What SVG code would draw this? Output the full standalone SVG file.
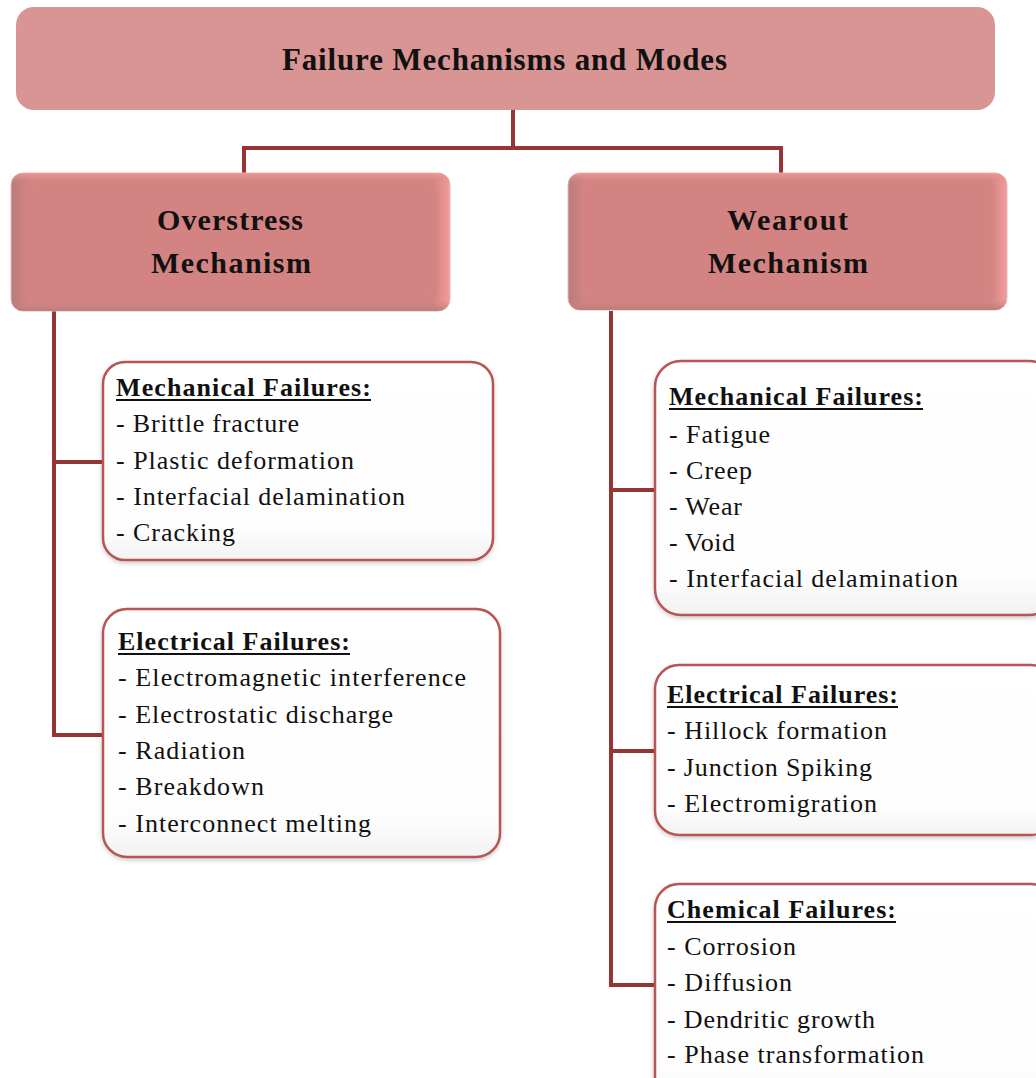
<svg xmlns="http://www.w3.org/2000/svg" width="1036" height="1078" viewBox="0 0 1036 1078">
<style>
.title{font-family:"Liberation Serif","Times New Roman",serif;font-weight:bold;font-size:31px;fill:#111;}
.hd{font-family:"Liberation Serif","Times New Roman",serif;font-weight:bold;font-size:30px;fill:#111;}
.sh{font-family:"Liberation Serif","Times New Roman",serif;font-weight:bold;font-size:26px;fill:#111;}
.it{font-family:"Liberation Serif","Times New Roman",serif;font-size:26px;fill:#111;}
.ul{fill:#111;}
.conn{fill:none;stroke:#963634;stroke-width:4;}
.box{fill:url(#wg);stroke:#B65452;stroke-width:2.5;}
</style>
<defs>
<linearGradient id="bh" x1="0" y1="0" x2="1" y2="0">
<stop offset="0" stop-color="#B87C7C"/><stop offset="0.04" stop-color="#D38482"/><stop offset="0.96" stop-color="#D38482"/><stop offset="1" stop-color="#F39C9C"/>
</linearGradient>
<linearGradient id="bv" x1="0" y1="0" x2="0" y2="1">
<stop offset="0" stop-color="#F19A99" stop-opacity="0.9"/><stop offset="0.08" stop-color="#D38482" stop-opacity="0"/><stop offset="0.92" stop-color="#D38482" stop-opacity="0"/><stop offset="1" stop-color="#B47D7D" stop-opacity="0.9"/>
</linearGradient>
<linearGradient id="wg" x1="0" y1="0" x2="0" y2="1">
<stop offset="0" stop-color="#FFFFFF"/><stop offset="0.85" stop-color="#FDFDFD"/><stop offset="1" stop-color="#F2F2F2"/>
</linearGradient>
<filter id="blur" x="-5%" y="-5%" width="110%" height="110%"><feGaussianBlur stdDeviation="3"/></filter>
<filter id="sh" x="-5%" y="-5%" width="110%" height="115%"><feDropShadow dx="0" dy="2" stdDeviation="2" flood-color="#000" flood-opacity="0.2"/></filter>
</defs>

<g id="connectors">
<path class="conn" d="M513,110 V150"/>
<path class="conn" d="M244,173 V148 H781 V173"/>
<path class="conn" d="M54,311 V735 H103"/>
<path class="conn" d="M54,462 H103"/>
<path class="conn" d="M611,311 V985 H655"/>
<path class="conn" d="M611,490 H655"/>
<path class="conn" d="M611,751 H655"/>
</g>

<g id="root">
<rect x="16" y="7" width="979" height="103" rx="18" fill="#D99594"/>
<text class="title" x="282" y="70" textLength="445" lengthAdjust="spacing">Failure Mechanisms and Modes</text>
</g>

<g id="overstress">
<rect x="11" y="173" width="439" height="138" rx="12" fill="url(#bh)" stroke="#E8B8B7" stroke-width="1"/>
<rect x="11" y="173" width="439" height="138" rx="12" fill="url(#bv)"/>
<rect x="24" y="184" width="413" height="116" rx="6" fill="#D38482" filter="url(#blur)"/>
<text class="hd" x="157" y="230" textLength="146" lengthAdjust="spacing">Overstress</text>
<text class="hd" x="151" y="273" textLength="160" lengthAdjust="spacing">Mechanism</text>
</g>

<g id="wearout">
<rect x="568" y="173" width="439" height="137" rx="12" fill="url(#bh)" stroke="#E8B8B7" stroke-width="1"/>
<rect x="568" y="173" width="439" height="137" rx="12" fill="url(#bv)"/>
<rect x="581" y="184" width="413" height="115" rx="6" fill="#D38482" filter="url(#blur)"/>
<text class="hd" x="727" y="230" textLength="121" lengthAdjust="spacing">Wearout</text>
<text class="hd" x="708" y="273" textLength="160" lengthAdjust="spacing">Mechanism</text>
</g>

<g id="os-mech">
<rect class="box" x="103" y="362" width="390" height="198" rx="22" filter="url(#sh)"/>
<text class="sh" x="116" y="396" textLength="255" lengthAdjust="spacing">Mechanical Failures:</text>
<rect class="ul" x="116" y="399" width="255" height="2"/>
<text class="it" x="116" y="432" textLength="183" lengthAdjust="spacing">- Brittle fracture</text>
<text class="it" x="116" y="469" textLength="238" lengthAdjust="spacing">- Plastic deformation</text>
<text class="it" x="116" y="505" textLength="289" lengthAdjust="spacing">- Interfacial delamination</text>
<text class="it" x="116" y="541" textLength="119" lengthAdjust="spacing">- Cracking</text>
</g>

<g id="os-elec">
<rect class="box" x="103" y="609" width="397" height="248" rx="24" filter="url(#sh)"/>
<text class="sh" x="118" y="650" textLength="232" lengthAdjust="spacing">Electrical Failures:</text>
<rect class="ul" x="118" y="653" width="232" height="2"/>
<text class="it" x="118" y="686" textLength="348" lengthAdjust="spacing">- Electromagnetic interference</text>
<text class="it" x="118" y="723" textLength="275" lengthAdjust="spacing">- Electrostatic discharge</text>
<text class="it" x="118" y="759" textLength="127" lengthAdjust="spacing">- Radiation</text>
<text class="it" x="118" y="795" textLength="146" lengthAdjust="spacing">- Breakdown</text>
<text class="it" x="118" y="832" textLength="253" lengthAdjust="spacing">- Interconnect melting</text>
</g>

<g id="wo-mech">
<rect class="box" x="655" y="361" width="400" height="254" rx="26" filter="url(#sh)"/>
<text class="sh" x="669" y="405" textLength="254" lengthAdjust="spacing">Mechanical Failures:</text>
<rect class="ul" x="669" y="408" width="254" height="2"/>
<text class="it" x="669" y="443" textLength="101" lengthAdjust="spacing">- Fatigue</text>
<text class="it" x="669" y="479" textLength="83" lengthAdjust="spacing">- Creep</text>
<text class="it" x="669" y="515" textLength="73" lengthAdjust="spacing">- Wear</text>
<text class="it" x="669" y="551" textLength="66" lengthAdjust="spacing">- Void</text>
<text class="it" x="669" y="587" textLength="289" lengthAdjust="spacing">- Interfacial delamination</text>
</g>

<g id="wo-elec">
<rect class="box" x="655" y="665" width="400" height="170" rx="24" filter="url(#sh)"/>
<text class="sh" x="667" y="703" textLength="231" lengthAdjust="spacing">Electrical Failures:</text>
<rect class="ul" x="667" y="706" width="231" height="2"/>
<text class="it" x="667" y="739" textLength="220" lengthAdjust="spacing">- Hillock formation</text>
<text class="it" x="667" y="776" textLength="205" lengthAdjust="spacing">- Junction Spiking</text>
<text class="it" x="667" y="812" textLength="210" lengthAdjust="spacing">- Electromigration</text>
</g>

<g id="wo-chem">
<rect class="box" x="655" y="884" width="400" height="220" rx="24" filter="url(#sh)"/>
<text class="sh" x="667" y="918" textLength="229" lengthAdjust="spacing">Chemical Failures:</text>
<rect class="ul" x="667" y="921" width="229" height="2"/>
<text class="it" x="667" y="955" textLength="129" lengthAdjust="spacing">- Corrosion</text>
<text class="it" x="667" y="991" textLength="125" lengthAdjust="spacing">- Diffusion</text>
<text class="it" x="667" y="1028" textLength="208" lengthAdjust="spacing">- Dendritic growth</text>
<text class="it" x="667" y="1063" textLength="257" lengthAdjust="spacing">- Phase transformation</text>
</g>
</svg>
